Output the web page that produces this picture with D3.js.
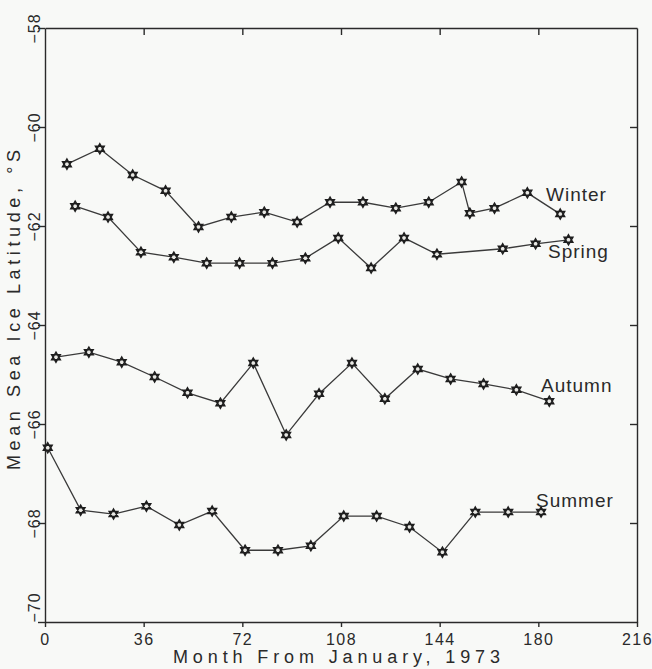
<!DOCTYPE html>
<html>
<head>
<meta charset="utf-8">
<script src="https://cdn.jsdelivr.net/npm/d3@7"></script>
<style>
  body { margin: 0; background: #f8f9f7; }
  svg { display: block; }
  text { font-family: "Liberation Sans", Arial, sans-serif; fill: #2a2a2a; }
  .axis path, .axis line { stroke: #2a2a2a; stroke-width: 1.4; }
</style>
</head>
<body>
<div id="chart"></div>
<script>
// months from January 1973
var winterMonths = [8, 20, 32, 44, 56, 68, 80, 92, 104, 116, 128, 140, 152, 155, 164, 176, 188];
var winterLat = [-60.75, -60.44, -60.97, -61.29, -62.02, -61.82, -61.72, -61.92, -61.52, -61.52, -61.64, -61.52, -61.11, -61.74, -61.64, -61.33, -61.76];

var springMonths = [11, 23, 35, 47, 59, 71, 83, 95, 107, 119, 131, 143, 167, 179, 191];
var springLat = [-61.60, -61.82, -62.53, -62.63, -62.75, -62.75, -62.75, -62.65, -62.24, -62.85, -62.24, -62.57, -62.46, -62.36, -62.28];

var autumnMonths = [4, 16, 28, 40, 52, 64, 76, 88, 100, 112, 124, 136, 148, 160, 172, 184];
var autumnLat = [-64.65, -64.55, -64.75, -65.05, -65.37, -65.58, -64.77, -66.22, -65.39, -64.77, -65.49, -64.89, -65.09, -65.19, -65.31, -65.54];

var summerMonths = [1, 13, 25, 37, 49, 61, 73, 85, 97, 109, 121, 133, 145, 157, 169, 181];
var summerLat = [-66.48, -67.74, -67.82, -67.66, -68.04, -67.76, -68.55, -68.55, -68.46, -67.86, -67.86, -68.08, -68.59, -67.78, -67.78, -67.78];

var xTicks = [0, 36, 72, 108, 144, 180, 216];
var yTicks = [-58, -60, -62, -64, -66, -68, -70];

var series = [
    {name: "Winter", months: winterMonths, lat: winterLat, labelPos: [546, 201]},
    {name: "Spring", months: springMonths, lat: springLat, labelPos: [548, 258]},
    {name: "Autumn", months: autumnMonths, lat: autumnLat, labelPos: [541, 392]},
    {name: "Summer", months: summerMonths, lat: summerLat, labelPos: [536, 507]}
];

var margin = {top: 28, right: 15, bottom: 47, left: 45},
    width = 652 - margin.left - margin.right,
    height = 669 - margin.top - margin.bottom;

var svg = d3.select("#chart").append("svg")
    .attr("width", 652)
    .attr("height", 669)
  .append("g")
    .attr("transform", "translate(" + margin.left + "," + margin.top + ")");

var x = d3.scaleLinear().domain([0, 216]).range([0, width]);
var y = d3.scaleLinear().domain([-70, -58]).range([height, 0]);

var fmt = d => d < 0 ? "\u2212" + Math.abs(d) : String(d);

// bottom axis
var xAxis = svg.append("g")
    .attr("class", "axis")
    .attr("transform", "translate(0," + height + ")")
    .call(d3.axisBottom(x).tickValues(xTicks).tickSize(5).tickSizeOuter(0).tickFormat(d => d));
xAxis.selectAll("text")
    .attr("y", 12)
    .style("font-size", "16px")
    .style("letter-spacing", "1.5px");

// top axis, ticks inward
svg.append("g")
    .attr("class", "axis")
    .call(d3.axisTop(x).tickValues(xTicks.slice(1, -1)).tickSize(-7).tickSizeOuter(0).tickFormat(""));

// left axis, rotated labels
var yAxis = svg.append("g")
    .attr("class", "axis")
    .call(d3.axisLeft(y).tickValues(yTicks).tickSize(7).tickSizeOuter(0).tickFormat(fmt));
yAxis.selectAll("text")
    .attr("x", null).attr("dy", null)
    .attr("transform", "translate(-5,0) rotate(-90)")
    .attr("text-anchor", d => d === -70 ? "start" : "middle")
    .attr("y", 0)
    .style("font-size", "16px")
    .style("letter-spacing", "1px");

// right axis, ticks inward
svg.append("g")
    .attr("class", "axis")
    .attr("transform", "translate(" + width + ",0)")
    .call(d3.axisRight(y).tickValues(yTicks.slice(1, -1)).tickSize(-7).tickSizeOuter(0).tickFormat(""));

// axis titles
svg.append("text")
    .attr("x", 128)
    .attr("y", height + 41)
    .attr("textLength", 327)
    .attr("lengthAdjust", "spacing")
    .style("font-size", "18px")
    .text("Month From January, 1973");

svg.append("text")
    .attr("transform", "translate(-25," + (470 - margin.top) + ") rotate(-90)")
    .attr("textLength", 320)
    .attr("lengthAdjust", "spacing")
    .style("font-size", "18px")
    .text("Mean Sea Ice Latitude, \u00b0S");

// hexagram marker
function hexagram(r) {
    var p = "";
    [0, 1].forEach(k => {
        for (var i = 0; i < 3; i++) {
            var a = (k * 60 + i * 120 - 90) * Math.PI / 180;
            p += (i === 0 ? "M" : "L") + (r * Math.cos(a)).toFixed(2) + "," + (r * Math.sin(a)).toFixed(2);
        }
        p += "Z";
    });
    return p;
}

var line = d3.line()
    .x(d => x(d[0]))
    .y(d => y(d[1]));

series.forEach(s => {
    var pts = s.months.map((m, i) => [m, s.lat[i]]);

    svg.append("path")
        .datum(pts)
        .attr("d", line)
        .style("fill", "none")
        .style("stroke", "#3a3a3a")
        .style("stroke-width", 1.3);

    svg.selectAll(".dot-" + s.name)
        .data(pts)
      .enter().append("path")
        .attr("class", "dot-" + s.name)
        .attr("transform", d => "translate(" + x(d[0]) + "," + y(d[1]) + ")")
        .attr("d", hexagram(5))
        .style("fill", "#e8e8e4")
        .style("stroke", "#1e1e1e")
        .style("stroke-width", 1.5);

    svg.append("text")
        .attr("x", s.labelPos[0] - margin.left)
        .attr("y", s.labelPos[1] - margin.top)
        .style("font-size", "19px")
        .style("letter-spacing", "1px")
        .text(s.name);
});
</script>
</body>
</html>
